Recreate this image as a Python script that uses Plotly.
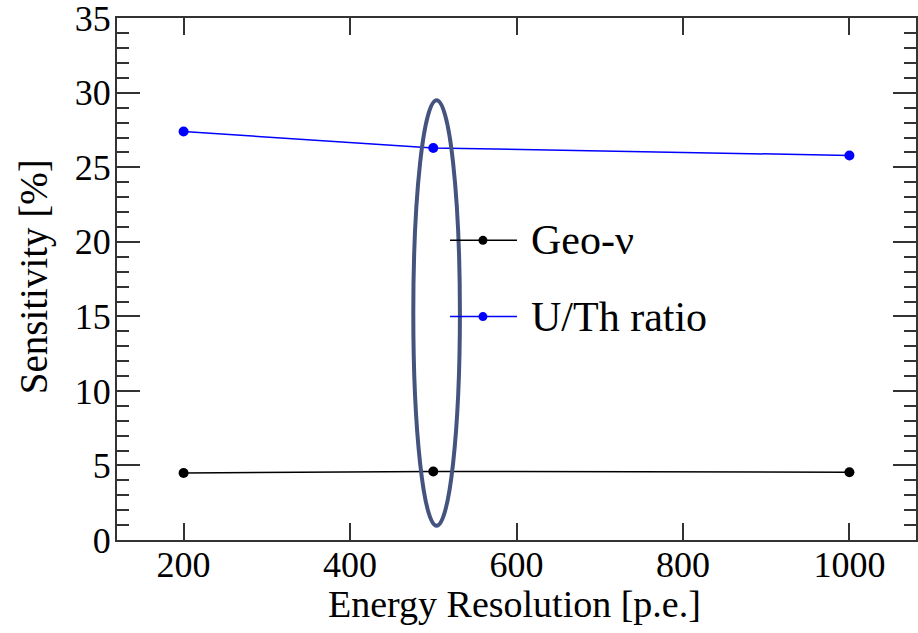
import plotly.graph_objects as go

energy_res = [200, 500, 1000]
geo_nu = [4.5, 4.6, 4.55]
u_th_ratio = [27.4, 26.3, 25.8]

series_names = ["Geo-ν", "U/Th ratio"]
series_colors = ["black", "#0000ff"]

x_ticks = [200, 400, 600, 800, 1000]
y_ticks = [0, 5, 10, 15, 20, 25, 30, 35]

x_title = "Energy Resolution [p.e.]"
y_title = "Sensitivity [%]"

FONT = "Liberation Serif, Times New Roman, serif"

fig = go.Figure()
for ys, name, col in zip([geo_nu, u_th_ratio], series_names, series_colors):
    fig.add_trace(go.Scatter(x=energy_res, y=ys, mode="lines+markers", name=name,
                             line=dict(color=col, width=1.5),
                             marker=dict(color=col, size=10), showlegend=False))

# highlight ellipse around the 500 p.e. column
fig.add_shape(type="circle", xref="x", yref="y",
              x0=476, x1=532, y0=0.95, y1=29.5,
              line=dict(color="#44547f", width=4))

# manual legend (ROOT style: long line with marker in its middle)
leg_x0, leg_x1, leg_mark_x, leg_text_x = 0.4168, 0.5006, 0.458, 0.516
leg_rows = [0.574, 0.428]
for name, col, yy in zip(series_names, series_colors, leg_rows):
    fig.add_shape(type="line", xref="paper", yref="paper",
                  x0=leg_x0, x1=leg_x1, y0=yy, y1=yy,
                  line=dict(color=col, width=1.5))
    fig.add_trace(go.Scatter(x=[leg_mark_x], y=[yy], mode="markers", xaxis="x2", yaxis="y2",
                             marker=dict(color=col, size=9), showlegend=False, hoverinfo="skip"))
    fig.add_annotation(x=leg_text_x, y=yy, xref="paper", yref="paper", text=name,
                       showarrow=False, xanchor="left", yanchor="middle",
                       font=dict(family=FONT, size=42, color="black"))

# axis titles
fig.add_annotation(x=0.498, y=-0.122, xref="paper", yref="paper", text=x_title,
                   showarrow=False, xanchor="center", yanchor="middle",
                   font=dict(family=FONT, size=38, color="black"))
fig.add_annotation(x=-0.104, y=0.505, xref="paper", yref="paper", text=y_title,
                   showarrow=False, xanchor="center", yanchor="middle", textangle=-90,
                   font=dict(family=FONT, size=39, color="black"))

fig.update_layout(
    width=918, height=633,
    margin=dict(l=117, r=2, t=18, b=93, autoexpand=False),
    paper_bgcolor="white", plot_bgcolor="white",
    font=dict(family=FONT, size=36, color="black"),
    showlegend=False,
    xaxis=dict(range=[120, 1080], tickvals=x_ticks, ticks="inside", ticklen=17,
               tickwidth=1.5, tickcolor="#333", showgrid=False, zeroline=False,
               showline=True, linecolor="#333", linewidth=2, mirror="ticks",
               tickfont=dict(size=36), ticklabeloverflow="allow", automargin=False,
               ticklabelstandoff=-8),
    yaxis=dict(range=[0, 35.02], tickvals=y_ticks, ticks="inside", ticklen=23,
               tickwidth=1.5, tickcolor="#333", showgrid=False, zeroline=False,
               showline=True, linecolor="#333", linewidth=2, mirror="ticks",
               minor=dict(dtick=1, ticks="inside", ticklen=12, tickwidth=1.5, tickcolor="#333"),
               tickfont=dict(size=36), ticklabeloverflow="allow", automargin=False,
               ticklabelstandoff=-3),
    xaxis2=dict(overlaying="x", range=[0, 1], visible=False, domain=[0, 1]),
    yaxis2=dict(overlaying="y", range=[0, 1], visible=False, domain=[0, 1]),
)

fig.write_html("out.html")
